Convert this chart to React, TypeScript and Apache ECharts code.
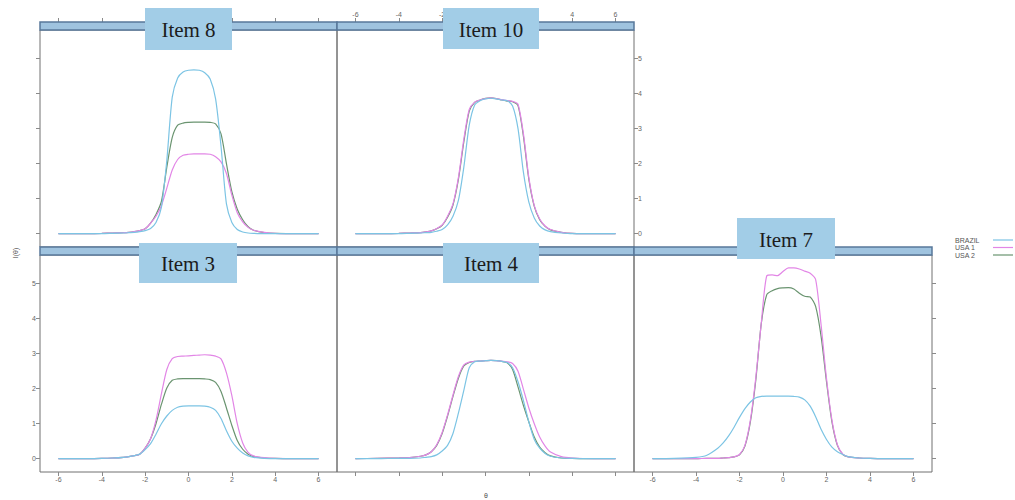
import React, { useEffect, useRef } from "react";
import * as echarts from "echarts";

// ---------- data ----------
const theta = [-6, -5, -4, -3.5, -3, -2.75, -2.5, -2.25, -2, -1.75, -1.5, -1.25, -1, -0.75, -0.5, -0.25, 0, 0.25, 0.5, 0.75, 1, 1.25, 1.5, 1.75, 2, 2.25, 2.5, 2.75, 3, 3.5, 4, 5, 6];
const xTicks = [-6, -4, -2, 0, 2, 4, 6];
const yTicks = [0, 1, 2, 3, 4, 5];
const groups = ["BRAZIL", "USA 1", "USA 2"];
const items = ["Item 8", "Item 10", "Item 3", "Item 4", "Item 7"];

const item8Brazil = [0, 0, 0, 0.01, 0.02, 0.03, 0.04, 0.06, 0.09, 0.15, 0.32, 0.75, 2.1, 3.9, 4.45, 4.62, 4.67, 4.68, 4.67, 4.6, 4.42, 3.85, 2.5, 0.85, 0.32, 0.12, 0.05, 0.02, 0.01, 0, 0, 0, 0];
const item8Usa1 = [0, 0, 0.01, 0.02, 0.03, 0.04, 0.06, 0.09, 0.14, 0.3, 0.5, 0.8, 1.3, 1.82, 2.12, 2.24, 2.27, 2.28, 2.28, 2.28, 2.27, 2.2, 2.05, 1.72, 1.1, 0.6, 0.34, 0.18, 0.1, 0.04, 0.01, 0, 0];
const item8Usa2 = [0, 0, 0.01, 0.02, 0.03, 0.04, 0.06, 0.09, 0.14, 0.3, 0.55, 0.92, 1.9, 2.75, 3.1, 3.16, 3.18, 3.19, 3.19, 3.19, 3.18, 3.14, 2.85, 2.0, 1.2, 0.7, 0.4, 0.2, 0.1, 0.03, 0.01, 0, 0];

const item10Brazil = [0, 0, 0, 0.01, 0.02, 0.03, 0.04, 0.07, 0.12, 0.25, 0.5, 0.95, 1.9, 3.1, 3.68, 3.8, 3.85, 3.87, 3.85, 3.82, 3.8, 3.65, 3.0, 1.75, 0.9, 0.45, 0.22, 0.11, 0.06, 0.02, 0, 0, 0];
const item10Usa1 = [0, 0, 0.01, 0.02, 0.03, 0.05, 0.08, 0.15, 0.25, 0.5, 0.85, 1.6, 2.7, 3.55, 3.76, 3.82, 3.86, 3.88, 3.86, 3.83, 3.8, 3.78, 3.7, 2.85, 1.6, 0.8, 0.42, 0.22, 0.12, 0.04, 0.01, 0, 0];
const item10Usa2 = [0, 0, 0.01, 0.02, 0.03, 0.05, 0.08, 0.14, 0.24, 0.47, 0.82, 1.55, 2.62, 3.5, 3.75, 3.82, 3.87, 3.88, 3.86, 3.82, 3.79, 3.77, 3.66, 2.78, 1.55, 0.78, 0.4, 0.21, 0.11, 0.04, 0.01, 0, 0];

const item3Brazil = [0, 0, 0.01, 0.02, 0.04, 0.06, 0.09, 0.13, 0.26, 0.43, 0.7, 1.0, 1.22, 1.38, 1.47, 1.5, 1.51, 1.51, 1.51, 1.5, 1.47, 1.38, 1.15, 0.8, 0.5, 0.3, 0.16, 0.08, 0.04, 0.01, 0, 0, 0];
const item3Usa1 = [0, 0, 0.01, 0.02, 0.04, 0.06, 0.09, 0.13, 0.3, 0.57, 1.1, 1.85, 2.55, 2.86, 2.92, 2.93, 2.94, 2.95, 2.96, 2.97, 2.96, 2.93, 2.85, 2.45, 1.8, 1.0, 0.45, 0.18, 0.08, 0.03, 0.01, 0, 0];
const item3Usa2 = [0, 0, 0.01, 0.02, 0.04, 0.06, 0.09, 0.13, 0.3, 0.57, 1.0, 1.55, 2.02, 2.24, 2.28, 2.29, 2.29, 2.29, 2.29, 2.28, 2.26, 2.18, 1.92, 1.45, 0.95, 0.52, 0.27, 0.13, 0.06, 0.02, 0.01, 0, 0];

const item4Brazil = [0, 0, 0.01, 0.01, 0.02, 0.04, 0.06, 0.11, 0.22, 0.38, 0.72, 1.3, 1.95, 2.6, 2.77, 2.79, 2.8, 2.81, 2.8, 2.78, 2.75, 2.6, 2.2, 1.66, 1.05, 0.55, 0.3, 0.15, 0.07, 0.02, 0.01, 0, 0];
const item4Usa1 = [0, 0.01, 0.02, 0.03, 0.07, 0.11, 0.2, 0.4, 0.75, 1.25, 1.82, 2.35, 2.68, 2.76, 2.78, 2.79, 2.8, 2.81, 2.8, 2.79, 2.77, 2.72, 2.5, 1.98, 1.45, 1.0, 0.62, 0.36, 0.19, 0.06, 0.02, 0, 0];
const item4Usa2 = [0, 0.01, 0.02, 0.03, 0.07, 0.11, 0.2, 0.38, 0.72, 1.22, 1.78, 2.3, 2.65, 2.75, 2.78, 2.79, 2.8, 2.81, 2.8, 2.78, 2.74, 2.55, 2.05, 1.52, 1.05, 0.62, 0.33, 0.17, 0.08, 0.02, 0.01, 0, 0];

const item7Brazil = [0, 0.01, 0.04, 0.1, 0.3, 0.45, 0.65, 0.9, 1.18, 1.43, 1.62, 1.74, 1.78, 1.79, 1.79, 1.79, 1.79, 1.79, 1.78, 1.76, 1.68, 1.5, 1.2, 0.84, 0.55, 0.33, 0.2, 0.12, 0.06, 0.02, 0.01, 0, 0];
const item7Usa1 = [0, 0, 0, 0.01, 0.01, 0.02, 0.03, 0.05, 0.12, 0.38, 1.1, 2.32, 3.87, 5.22, 5.25, 5.23, 5.35, 5.45, 5.45, 5.42, 5.36, 5.3, 5.12, 3.83, 2.29, 1.1, 0.4, 0.13, 0.05, 0.02, 0.01, 0, 0];
const item7Usa2 = [0, 0, 0, 0.01, 0.01, 0.02, 0.03, 0.05, 0.11, 0.36, 1.05, 2.25, 3.85, 4.68, 4.8, 4.86, 4.88, 4.89, 4.85, 4.73, 4.64, 4.62, 4.35, 3.5, 2.2, 1.05, 0.38, 0.12, 0.05, 0.02, 0.01, 0, 0];

const panelData = [
  [item8Brazil, item8Usa1, item8Usa2],
  [item10Brazil, item10Usa1, item10Usa2],
  [item3Brazil, item3Usa1, item3Usa2],
  [item4Brazil, item4Usa1, item4Usa2],
  [item7Brazil, item7Usa1, item7Usa2],
];

// ---------- layout / style ----------
const colors = ["#7cc4e4", "#e286e6", "#6a9470"];
const PH = 217;
const STRIP_H = 8;
const layout = [
  { left: 40, top: 30, width: 297, xPos: "top", xLab: false, xTick: true, yPos: "left", yLab: false, yTick: true, box: { x: 145, y: 8, w: 87, h: 42 } },
  { left: 337, top: 30, width: 297, xPos: "top", xLab: true, xTick: true, yPos: "right", yLab: true, yTick: true, box: { x: 443, y: 8, w: 96, h: 41 } },
  { left: 40, top: 255, width: 297, xPos: "bottom", xLab: true, xTick: true, yPos: "left", yLab: true, yTick: true, box: { x: 139, y: 243, w: 98, h: 40 } },
  { left: 337, top: 255, width: 297, xPos: "bottom", xLab: false, xTick: true, yPos: "left", yLab: false, yTick: false, box: { x: 443, y: 243, w: 96, h: 40 } },
  { left: 634, top: 255, width: 298, xPos: "bottom", xLab: true, xTick: true, yPos: "right", yLab: false, yTick: true, box: { x: 737, y: 218, w: 98, h: 41 } },
];

const tickColor = "#8a8a8a";
const labelStyle = { fontSize: 7, color: "#666", fontFamily: "Liberation Sans" };

export default function App() {
  const ref = useRef<HTMLDivElement>(null);
  useEffect(() => {
    const chart = echarts.init(ref.current as HTMLDivElement, null, { renderer: "svg" });

    const grid = layout.map((p) => ({
      left: p.left,
      top: p.top,
      width: p.width,
      height: PH,
      show: true,
      borderColor: "#707070",
      borderWidth: 1,
      backgroundColor: "transparent",
    }));

    const xAxis = layout.map((p, i) => ({
      type: "value",
      gridIndex: i,
      min: -6.85,
      max: 6.85,
      position: p.xPos,
      offset: p.xPos === "top" ? STRIP_H : 0,
      axisLine: { show: false, onZero: false },
      splitLine: { show: false },
      axisTick: { show: p.xTick, customValues: xTicks, length: 4, lineStyle: { color: tickColor } },
      axisLabel: { show: p.xLab, customValues: xTicks, margin: 4, ...labelStyle },
    }));

    const yAxis = layout.map((p, i) => ({
      type: "value",
      gridIndex: i,
      min: -0.38,
      max: 5.82,
      position: p.yPos,
      axisLine: { show: false, onZero: false },
      splitLine: { show: false },
      axisTick: { show: p.yTick, customValues: yTicks, length: 4, lineStyle: { color: tickColor } },
      axisLabel: { show: p.yLab, customValues: yTicks, margin: 4, ...labelStyle },
    }));

    const series: any[] = [];
    panelData.forEach((sets, pi) => {
      [2, 1, 0].forEach((gi) => {
        series.push({
          type: "line",
          name: groups[gi],
          xAxisIndex: pi,
          yAxisIndex: pi,
          showSymbol: false,
          symbol: "none",
          smooth: 0.25,
          lineStyle: { width: 1.2, color: colors[gi] },
          data: theta.map((t, k) => [t, sets[gi][k]]),
          z: 2,
        });
      });
    });

    const graphic: any[] = [];
    layout.forEach((p) => {
      graphic.push({
        type: "rect",
        z: 50,
        shape: { x: p.left, y: p.top - STRIP_H, width: p.width, height: STRIP_H },
        style: { fill: "#9fc3df", stroke: "#58789a", lineWidth: 1.5 },
      });
    });
    layout.forEach((p, i) => {
      graphic.push({
        type: "rect",
        z: 60,
        shape: { x: p.box.x, y: p.box.y, width: p.box.w, height: p.box.h },
        style: { fill: "#a2cde7" },
      });
      graphic.push({
        type: "text",
        z: 61,
        x: p.box.x + p.box.w / 2,
        y: p.box.y + p.box.h / 2 + 1,
        style: {
          text: items[i],
          fontSize: 21,
          fontFamily: "Liberation Serif",
          fill: "#1c1c1c",
          align: "center",
          verticalAlign: "middle",
        },
      });
    });
    // legend
    const legendY = [240, 247.5, 255];
    groups.forEach((g, gi) => {
      graphic.push({
        type: "text",
        z: 61,
        x: 955,
        y: legendY[gi],
        style: { text: g, fontSize: 7, fontFamily: "Liberation Sans", fill: "#555", align: "left", verticalAlign: "middle" },
      });
      graphic.push({
        type: "line",
        z: 61,
        shape: { x1: 993, y1: legendY[gi], x2: 1013, y2: legendY[gi] },
        style: { stroke: colors[gi], lineWidth: 1.2 },
      });
    });
    // axis titles
    graphic.push({
      type: "text",
      z: 61,
      x: 15,
      y: 253,
      rotation: Math.PI / 2,
      style: { text: "I(θ)", fontSize: 7, fontFamily: "Liberation Sans", fill: "#555", align: "center", verticalAlign: "middle" },
    });
    graphic.push({
      type: "text",
      z: 61,
      x: 486,
      y: 495,
      style: { text: "θ", fontSize: 7, fontFamily: "Liberation Sans", fill: "#555", align: "center", verticalAlign: "middle" },
    });

    chart.setOption({
      animation: false,
      backgroundColor: "#ffffff",
      grid,
      xAxis,
      yAxis,
      series,
      graphic,
    });
    return () => chart.dispose();
  }, []);
  return (
    <div
      ref={ref}
      style={{ position: "absolute", left: 0, top: 0, width: 1015, height: 500, background: "#fff" }}
    />
  );
}
